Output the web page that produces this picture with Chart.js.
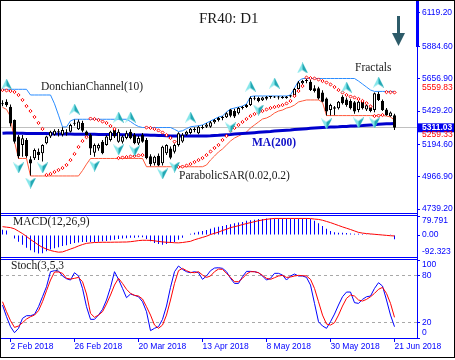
<!DOCTYPE html>
<html>
<head>
<meta charset="utf-8">
<script src="https://cdn.jsdelivr.net/npm/chart.js@4.4.0/dist/chart.umd.min.js"></script>
<style>
  body { margin: 0; background: #fff; }
  #wrap { position: relative; width: 455px; height: 360px; overflow: hidden; background: #fff; }
  #wrap canvas { position: absolute; left: 0; }
  .note { position: absolute; font-family: "Liberation Serif", serif; line-height: 1; white-space: nowrap; color: #1a1a1a; }
  .rule { position: absolute; background: #0000ff; }
</style>
</head>
<body>
<div id="wrap">
  <canvas id="mainChart" width="455" height="213" style="top:0"></canvas>
  <canvas id="macdChart" width="455" height="41" style="top:216px"></canvas>
  <canvas id="stochChart" width="455" height="100" style="top:260px"></canvas>

  <div class="rule" style="left:0;top:213px;width:418px;height:1px"></div>
  <div class="rule" style="left:0;top:215px;width:418px;height:1px"></div>
  <div class="rule" style="left:0;top:257px;width:418px;height:1px"></div>
  <div class="rule" style="left:0;top:259px;width:418px;height:1px"></div>
  <div class="rule" style="left:0;top:338px;width:418px;height:1px"></div>
  <div class="rule" style="left:417px;top:0;width:1px;height:339px"></div>
  <div class="rule" style="left:416px;top:0;width:3px;height:47px"></div>

  <div class="note" style="left:199px;top:11px;font-size:15px">FR40: D1</div>
  <div class="note" style="left:41px;top:81px;font-size:11.5px">DonchianChannel(10)</div>
  <div class="note" style="left:355px;top:62px;font-size:11.5px">Fractals</div>
  <div class="note" style="left:179px;top:170px;font-size:11.5px">ParabolicSAR(0.02,0.2)</div>
  <div class="note" style="left:252px;top:137px;font-size:11.5px;font-weight:bold;color:#1010c8">MA(200)</div>
  <div class="note" style="left:13px;top:216px;font-size:11.5px">MACD(12,26,9)</div>
  <div class="note" style="left:11px;top:260px;font-size:11.5px">Stoch(3,5,3</div>

  <div style="position:absolute;left:0;top:0;width:455px;height:358px;border:1px solid #000;box-sizing:border-box;pointer-events:none"></div>
</div>

<script>
"use strict";

// daily bars, 31 Jan 2018 .. 21 Jun 2018
const opens = [5476,5495,5460,5366,5249,5190,5225,5090,5096,5143,
    5131,5202,5249,5262,5280,5262,5272,5284,5340,5300,
    5345,5285,5260,5135,5165,5213,5190,5225,5296,5213,
    5213,5240,5284,5260,5200,5260,5225,5110,5061,5115,
    5061,5131,5166,5143,5190,5215,5262,5275,5295,5272,
    5310,5319,5319,5350,5366,5380,5385,5440,5430,5413,
    5450,5458,5472,5515,5520,5505,5515,5528,5532,5525,
    5530,5520,5532,5540,5585,5625,5640,5636,5590,5589,
    5560,5518,5436,5445,5448,5530,5510,5500,5490,5436,
    5495,5440,5455,5436,5550,5500,5440,5392,5400];
const highs = [5505,5512,5475,5370,5260,5260,5240,5110,5165,5166,
    5195,5255,5290,5300,5303,5315,5300,5340,5370,5370,
    5360,5292,5270,5200,5200,5225,5260,5290,5300,5300,
    5260,5290,5300,5275,5255,5275,5240,5125,5115,5130,
    5185,5195,5180,5200,5280,5275,5290,5310,5315,5325,
    5330,5345,5359,5373,5387,5394,5420,5443,5445,5457,
    5464,5479,5531,5535,5530,5530,5535,5535,5535,5535,
    5535,5535,5542,5591,5640,5650,5659,5650,5610,5600,
    5575,5525,5480,5465,5500,5540,5525,5512,5500,5500,
    5498,5478,5458,5560,5565,5510,5450,5425,5410];
const lows = [5462,5460,5320,5200,5095,5108,5100,4975,5085,5084,
    5073,5195,5240,5255,5249,5249,5255,5278,5325,5295,
    5280,5250,5120,5108,5150,5125,5185,5215,5240,5205,
    5200,5230,5230,5195,5190,5205,5090,5040,5045,5040,
    5045,5120,5090,5130,5180,5205,5255,5265,5280,5265,
    5300,5310,5312,5340,5355,5365,5380,5385,5380,5405,
    5440,5450,5465,5505,5490,5500,5505,5515,5520,5510,
    5515,5515,5525,5535,5580,5610,5625,5570,5560,5510,
    5490,5397,5397,5400,5440,5475,5460,5440,5410,5420,
    5440,5430,5420,5420,5500,5430,5395,5388,5296];
const closes = [5484,5472,5342,5213,5110,5237,5110,5060,5155,5120,
    5190,5249,5284,5290,5284,5296,5278,5331,5345,5355,
    5290,5260,5165,5190,5190,5131,5249,5284,5249,5284,
    5249,5272,5237,5202,5240,5213,5096,5055,5108,5045,
    5178,5190,5100,5190,5272,5262,5284,5305,5300,5319,
    5315,5335,5350,5366,5380,5388,5413,5395,5390,5450,
    5458,5472,5520,5520,5500,5525,5530,5532,5525,5530,
    5520,5532,5540,5585,5630,5640,5645,5577,5570,5518,
    5495,5425,5471,5455,5495,5483,5471,5448,5425,5495,
    5448,5470,5430,5554,5507,5436,5400,5418,5311.03];

const donchianUpper = [5582,5582,5582,5582,5582,5582,5582,5542,5542,5542,
    5542,5542,5542,5480,5400,5317,5317,5360,5371,5371,
    5371,5371,5371,5371,5371,5371,5371,5371,5371,5371,
    5371,5371,5355,5335,5320,5313,5313,5313,5313,5313,
    5313,5313,5313,5300,5285,5290,5305,5318,5322,5325,
    5331,5345,5359,5373,5387,5394,5422,5443,5450,5457,
    5464,5479,5531,5535,5535,5535,5535,5535,5535,5535,
    5535,5535,5542,5591,5640,5658,5658,5658,5658,5658,
    5658,5658,5658,5658,5658,5658,5658,5658,5658,5640,
    5619,5598,5577,5567,5567,5567,5567,5567,5567];
const donchianLower = [5455,5441,5389,5213,5095,5095,5095,4972,4972,4972,
    4972,4972,4972,4972,4972,4972,4972,4972,4972,4972,
    5010,5055,5095,5095,5095,5095,5095,5095,5095,5095,
    5095,5095,5095,5095,5095,5095,5037,5037,5037,5037,
    5037,5037,5037,5037,5037,5037,5037,5037,5037,5037,
    5037,5049,5084,5112,5141,5162,5190,5218,5239,5253,
    5267,5281,5310,5331,5352,5373,5380,5394,5415,5429,
    5436,5450,5457,5471,5493,5500,5507,5507,5507,5507,
    5490,5397,5397,5397,5397,5397,5397,5397,5397,5397,
    5397,5397,5397,5397,5397,5397,5394,5387,5365];
const parabolicSar = [5577,5574,5570,5563,5542,5507,5464,5429,5387,5345,
    5303,4979,4986,5000,5014,5028,5049,5084,5127,5176,
    5218,5245,5376,5373,5366,5355,5345,5324,5303,5098,
    5102,5105,5109,5112,5116,5119,5313,5310,5303,5292,
    5278,5260,5239,5214,5035,5038,5045,5056,5070,5084,
    5098,5119,5144,5169,5190,5225,5253,5288,5310,5331,
    5352,5373,5394,5408,5419,5429,5440,5450,5457,5464,
    5471,5482,5500,5535,5570,5605,5665,5661,5658,5651,
    5640,5630,5616,5598,5577,5559,5542,5531,5524,5514,
    5500,5484,5462,5394,5397,5401,5562,5561,5559.83];
const ma200 = [5272,5274,5275,5274,5273,5272,5271,5271,5270,5270,
    5270,5270,5269,5268,5268,5267,5267,5267,5266,5266,
    5266,5265,5265,5265,5264,5264,5264,5263,5263,5263,
    5262,5262,5262,5261,5261,5261,5260,5259,5258,5257,
    5256,5255,5254,5254,5253,5253,5253,5253,5253,5253,
    5253,5254,5255,5257,5258,5260,5262,5264,5267,5269,
    5271,5273,5275,5277,5279,5281,5283,5285,5288,5290,
    5292,5294,5296,5299,5301,5303,5305,5307,5309,5311,
    5313,5314,5316,5317,5318,5320,5321,5323,5324,5326,
    5327,5329,5331,5333,5336,5338,5339,5340,5341];

const fractalUpIdx = [1, 18, 29, 32, 47, 62, 68, 75, 86, 94];
const fractalUpVal = [5619, 5443, 5387, 5387, 5387, 5605, 5626, 5732, 5598, 5633];
const fractalDownIdx = [4, 7, 10, 23, 29, 33, 40, 43, 57, 64, 81, 89, 93];
const fractalDownVal = [5028, 4922, 5028, 5042, 5155, 5148, 4986, 5035, 5310, 5436, 5338, 5345, 5345];

const macdHist = [22,19,2,-15,-28,-41,-54,-64,-72,-78,
    -77,-68,-61,-56,-51,-46,-43,-38,-34,-31,
    -29.5,-29.5,-29.5,-29.5,-28,-26.5,-25,-22,-19.5,-16.5,
    -15,-13.5,-12,-11,-9.5,-9.5,-16.5,-26.5,-33.5,-38,
    -41,-38,-33.5,-29.5,-19.5,-12,-2,5,9,13.5,
    16.5,21,26.5,31,35,38,42,45,49.5,52,
    55,59.5,62,64,67,67,69.5,69.5,69.5,69.5,
    69.5,69.5,69.5,69.5,69.5,69.5,69.5,66.7,59.5,49.5,
    38,26.5,16.5,12,9.3,9.3,8,6.5,5,5,
    4.3,3.6,3.6,3.6,2.9,2.2,2.2,0.7,-18];
const macdSignal = [35,33,31,26,16,6,-6,-19,-30,-42,
    -52,-59,-65,-69,-72,-71,-65,-59,-53,-46,
    -40,-35,-33,-31.5,-31,-30.5,-30.5,-30.5,-30,-30,
    -29.5,-29.4,-28,-26,-23.5,-22.2,-22.2,-22.5,-24.5,-27,
    -29,-30.5,-31,-32.5,-33,-31.5,-29,-26.5,-20,-15,
    -10,-5,2,7,12,19,24,31,35,39,
    44,48,52,56,60,63,66,68,69.5,69.5,
    69.5,69.5,69.5,69.5,69.5,69.5,69.5,69,67,65.5,
    62,57,52,46,40,34,28.5,23,17,11,
    8,6,4.5,3,1.5,0,-1.5,-3,-4];

const stochMain = [42.3,27.3,14.5,6.8,12.4,25.2,28.6,28.6,30.3,40.1,
    52.9,65.8,85.0,86.3,85.9,79.5,76,74.3,83.7,79.5,
    63.6,40.1,23.9,23.9,29.4,36.7,48.7,64.9,85.0,75.2,
    63.6,51.7,56.4,54.7,52.9,46.5,33.7,9.4,12.4,14.5,
    23.9,41.0,64.9,85.0,92.3,88,85.0,83.7,85.0,83.7,
    75.2,79.5,86.3,89.7,90.1,89.3,85.0,76.5,70.0,70.0,
    78.6,85.4,85.4,85.0,83.7,79.5,74.3,76.5,82.9,82.9,
    80.7,74.3,79.5,82.0,79.5,79.5,77.7,67.9,44.4,20.9,
    15.4,12.4,20.9,30.7,42.3,52.9,58.9,58.9,45.3,44.4,
    49.5,52.9,53.8,63.6,70.9,66.6,48.7,29.4,14.5];
const stochSignal = [46.5,33.7,22.2,13.6,15.4,19.6,24.3,27.3,29.4,35.0,
    46.5,60.6,74.3,84.6,84.6,82.9,76.5,75.6,76.5,77.7,
    72.2,56.4,31.6,26.5,29.4,33.7,43.6,55.1,67.9,76.5,
    70.0,62.4,57.2,54.7,53.8,50,40.1,29.4,16.6,12.4,
    16.6,29.4,48.7,70.0,86.3,89.3,86.3,84.2,83.7,85.0,
    80.7,77.7,79.5,85.0,88.4,88.0,82.9,77.7,72.2,72.2,
    76.5,82.0,85.0,85.0,83.7,80.3,76.5,75.2,77.3,79.5,
    80.3,77.7,78.2,79.5,80.3,79.9,79.5,75.2,63.6,46.5,
    29.4,17.9,16.6,19.6,29.4,41.0,50.8,55.1,53.8,48.7,
    47.4,49.5,52.9,57.2,62.4,64.9,57.2,44.4,26.5];

// axis labels
const priceTicks = [6119.2, 5884.6, 5656.9, 5429.2, 5194.6, 4966.9, 4739.2];
const priceTickLabels = ["6119.20", "5884.60", "5656.90", "5429.20", "5194.60", "4966.90", "4739.20"];
const sarLast = 5559.83;
const lastPrice = 5311.03;
const lowerMark = 5259.33;
const macdTicks = [79.791, 0, -92.323];
const stochTicks = [100, 80, 20, 0];
const dateTickIdx = [2, 18, 34, 50, 66, 82, 98];
const dateTickLabels = ["2 Feb 2018", "26 Feb 2018", "20 Mar 2018", "13 Apr 2018", "8 May 2018", "30 May 2018", "21 Jun 2018"];

//

const AXIS_BLUE = "#0000ff";
const tickFont = { family: "Liberation Sans", size: 8.5 };
const xMin = -0.625;
const xMax = 103.625;

Chart.defaults.font.family = "Liberation Sans";

const pts = (arr) => arr.map((v, i) => ({ x: i, y: v }));

// x axis kept "displayed" but empty, so that every window maps bars the same way
const quietX = () => ({
    type: "linear",
    min: xMin,
    max: xMax,
    offset: false,
    display: true,
    afterFit: (s) => {
        s.height = 0;
        s.paddingLeft = 0;
        s.paddingRight = 0;
    },
    border: { display: false },
    grid: { display: false, offset: false },
    ticks: { display: false },
});

const fitY = (s) => {
    s.width = 38;
    s.paddingTop = 0;
    s.paddingBottom = 0;
};

const baseOptions = {
    responsive: false,
    devicePixelRatio: 1,
    animation: false,
    events: [],
    layout: { padding: 0, autoPadding: false },
    plugins: { legend: { display: false }, tooltip: { enabled: false } },
};

const makeArrow = (up) => {
    const c = document.createElement("canvas");
    c.width = 11;
    c.height = 11;
    const g = c.getContext("2d");
    if (!up) {
        g.translate(0, 11);
        g.scale(1, -1);
    }
    g.fillStyle = "#86e6ea";
    g.beginPath();
    g.moveTo(5.5, 0);
    g.lineTo(11, 11);
    g.lineTo(5.5, 7.5);
    g.lineTo(0, 11);
    g.closePath();
    g.fill();
    g.fillStyle = "#22a8b4";
    g.beginPath();
    g.moveTo(5.5, 0);
    g.lineTo(11, 11);
    g.lineTo(5.5, 7.5);
    g.closePath();
    g.fill();
    return c;
};

const trendArrow = {
    id: "trendArrow",
    afterDraw(chart) {
        const c = chart.ctx;
        c.save();
        c.fillStyle = "#2d5b69";
        c.fillRect(397, 16, 3, 18);
        c.beginPath();
        c.moveTo(392, 33);
        c.lineTo(405, 33);
        c.lineTo(398.5, 46);
        c.closePath();
        c.fill();
        c.restore();
    },
};

// main price window
const mainValues = priceTicks.concat([sarLast, lastPrice, lowerMark]);
const mainLabels = priceTickLabels.concat([[sarLast.toFixed(2), ""], lastPrice.toFixed(2), lowerMark.toFixed(2)]);

new Chart(document.getElementById("mainChart"), {
    data: {
        datasets: [
            {
                type: "line",
                data: pts(parabolicSar),
                showLine: false,
                pointStyle: "rectRot",
                pointRadius: 1.6,
                pointBorderWidth: 1,
                pointBorderColor: "#ff0000",
                pointBackgroundColor: "#ffffff",
                order: 1,
            },
            {
                type: "line",
                data: fractalUpIdx.map((i, k) => ({ x: i, y: fractalUpVal[k] })),
                showLine: false,
                pointStyle: makeArrow(true),
                pointRadius: 5,
                order: 0,
            },
            {
                type: "line",
                data: fractalDownIdx.map((i, k) => ({ x: i, y: fractalDownVal[k] })),
                showLine: false,
                pointStyle: makeArrow(false),
                pointRadius: 5,
                order: 0,
            },
            {
                type: "bar",
                data: opens.map((o, i) => ({ x: i, y: [o, closes[i]] })),
                backgroundColor: opens.map((o, i) => (closes[i] >= o ? "#ffffff" : "#000000")),
                borderColor: "#000000",
                borderWidth: 1,
                borderSkipped: false,
                barThickness: 3,
                minBarLength: 1,
                grouped: false,
                inflateAmount: 0,
                order: 2,
            },
            {
                type: "bar",
                data: lows.map((l, i) => ({ x: i, y: [l, highs[i]] })),
                backgroundColor: "#000000",
                borderWidth: 0,
                barThickness: 1,
                grouped: false,
                inflateAmount: 0,
                order: 3,
            },
            {
                type: "line",
                data: pts(ma200),
                borderColor: "#0000cd",
                borderWidth: 3,
                pointRadius: 0,
                order: 4,
            },
            {
                type: "line",
                data: pts(donchianUpper),
                borderColor: "#2a8cff",
                borderWidth: 1,
                pointRadius: 0,
                order: 5,
            },
            {
                type: "line",
                data: pts(donchianLower),
                borderColor: "#ff5a3c",
                borderWidth: 1,
                pointRadius: 0,
                order: 5,
            },
        ],
    },
    options: {
        ...baseOptions,
        scales: {
            x: quietX(),
            y: {
                position: "right",
                min: 4711.2,
                max: 6210.7,
                afterFit: fitY,
                afterBuildTicks: (s) => {
                    s.ticks = mainValues.map((v) => ({ value: v }));
                },
                border: { display: false },
                grid: {
                    drawOnChartArea: true,
                    color: (ctx) => (ctx.tick && ctx.tick.value === lastPrice ? "#c0c0c0" : "rgba(0,0,0,0)"),
                    tickLength: 3,
                    tickColor: (ctx) => (ctx.index < priceTicks.length ? AXIS_BLUE : "rgba(0,0,0,0)"),
                },
                ticks: {
                    autoSkip: false,
                    padding: 2,
                    callback: (v, i) => mainLabels[i],
                    font: (ctx) =>
                        ctx.tick && ctx.tick.value === lastPrice
                            ? { family: "Liberation Sans", size: 8.5, weight: "bold", lineHeight: 1.05 }
                            : tickFont,
                    color: (ctx) => {
                        if (!ctx.tick) return AXIS_BLUE;
                        if (ctx.tick.value === lastPrice) return "#ffffff";
                        if (ctx.index >= priceTicks.length) return "#ff0000";
                        return AXIS_BLUE;
                    },
                    showLabelBackdrop: (ctx) => !!(ctx.tick && ctx.tick.value === lastPrice),
                    backdropColor: "#0000ee",
                    backdropPadding: { top: 0, bottom: 0, left: 4, right: 10 },
                },
            },
        },
    },
    plugins: [trendArrow],
});

// MACD window
new Chart(document.getElementById("macdChart"), {
    data: {
        datasets: [
            {
                type: "line",
                data: pts(macdSignal),
                borderColor: "#ff0000",
                borderWidth: 1,
                pointRadius: 0,
                order: 0,
            },
            {
                type: "bar",
                data: pts(macdHist),
                backgroundColor: AXIS_BLUE,
                borderWidth: 0,
                barThickness: 1,
                grouped: false,
                inflateAmount: 0,
                order: 1,
            },
        ],
    },
    options: {
        ...baseOptions,
        scales: {
            x: quietX(),
            y: {
                position: "right",
                min: -92.323,
                max: 79.791,
                afterFit: fitY,
                afterBuildTicks: (s) => {
                    s.ticks = macdTicks.map((v) => ({ value: v }));
                },
                border: { display: false },
                grid: {
                    drawOnChartArea: false,
                    tickLength: 3,
                    tickColor: AXIS_BLUE,
                },
                ticks: {
                    autoSkip: false,
                    padding: 2,
                    font: tickFont,
                    color: AXIS_BLUE,
                    callback: (v, i) => {
                        if (i === 0) return ["", v.toFixed(3)];
                        if (i === macdTicks.length - 1) return [v.toFixed(3), ""];
                        return v.toFixed(2);
                    },
                },
            },
        },
    },
});

// Stochastic window with the date axis
new Chart(document.getElementById("stochChart"), {
    data: {
        datasets: [
            {
                type: "line",
                data: pts(stochSignal),
                borderColor: "#ff0000",
                borderWidth: 1,
                pointRadius: 0,
                order: 0,
            },
            {
                type: "line",
                data: pts(stochMain),
                borderColor: "#0000ff",
                borderWidth: 1,
                pointRadius: 0,
                order: 1,
            },
        ],
    },
    options: {
        ...baseOptions,
        scales: {
            x: {
                type: "linear",
                position: "bottom",
                min: xMin,
                max: xMax,
                offset: false,
                afterBuildTicks: (s) => {
                    s.ticks = dateTickIdx.map((v) => ({ value: v }));
                },
                afterFit: (s) => {
                    s.height = 22;
                    s.paddingLeft = 0;
                    s.paddingRight = 0;
                },
                border: { display: false },
                grid: {
                    drawOnChartArea: false,
                    tickLength: 4,
                    tickColor: AXIS_BLUE,
                },
                ticks: {
                    autoSkip: false,
                    maxRotation: 0,
                    minRotation: 0,
                    align: "start",
                    padding: 0,
                    font: tickFont,
                    color: AXIS_BLUE,
                    callback: (v, i) => dateTickLabels[i],
                },
            },
            y: {
                position: "right",
                min: 0,
                max: 100,
                afterFit: fitY,
                afterBuildTicks: (s) => {
                    s.ticks = stochTicks.map((v) => ({ value: v }));
                },
                border: {
                    display: false,
                    dash: (ctx) => (ctx.tick && (ctx.tick.value === 80 || ctx.tick.value === 20) ? [3, 3] : []),
                },
                grid: {
                    drawOnChartArea: true,
                    color: (ctx) =>
                        ctx.tick && (ctx.tick.value === 80 || ctx.tick.value === 20) ? "#a8a8a8" : "rgba(0,0,0,0)",
                    tickLength: 3,
                    tickColor: AXIS_BLUE,
                },
                ticks: {
                    autoSkip: false,
                    padding: 2,
                    font: tickFont,
                    color: AXIS_BLUE,
                    callback: (v, i) => {
                        if (v === 100) return ["", "100"];
                        if (v === 0) return ["0", ""];
                        return String(v);
                    },
                },
            },
        },
    },
});
</script>
</body>
</html>
